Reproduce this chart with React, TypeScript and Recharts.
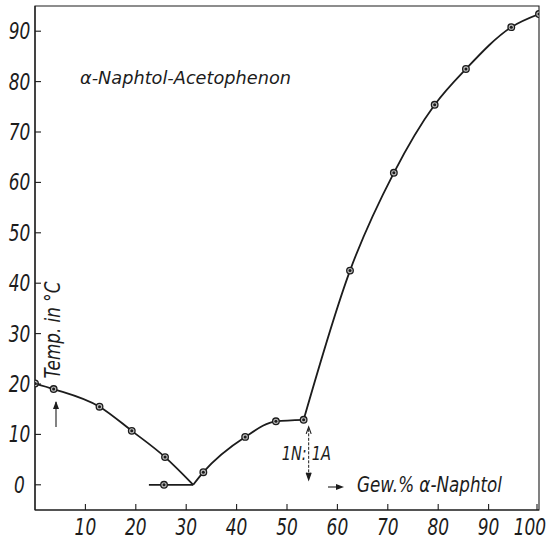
import React from 'react'
import {LineChart, Line, XAxis, YAxis, ReferenceArea, ReferenceLine} from 'recharts'

// Gew.% alpha-Naphtol (x) and temperature in °C (y)
const acetoX = [0, 3.7, 12.8, 19.2, 25.8, 31.4]
const acetoT = [20.1, 19.0, 15.5, 10.7, 5.5, 0]
const acetoDot = [true, true, true, true, true, false]

const compX = [31.4, 33.4, 41.7, 47.8, 53.3]
const compT = [0, 2.5, 9.5, 12.6, 12.9]
const compDot = [false, true, true, true, true]

const naphX = [53.3, 62.5, 71.2, 79.3, 85.5, 94.5, 100]
const naphT = [12.9, 42.5, 61.9, 75.4, 82.5, 90.8, 93.4]
const naphDot = [false, true, true, true, true, true, true]

const eutX = [22.6, 25.6, 31.4]
const eutT = [0, 0, 0]
const eutDot = [false, true, false]

const xTicks = [10, 20, 30, 40, 50, 60, 70, 80, 90, 100]
const yTicks = [0, 10, 20, 30, 40, 50, 60, 70, 80, 90]

const ratioX = 54.3
const ratioTop = 11.5
const ratioBottom = 1.0

const FONT = "'Liberation Sans Narrow', 'DejaVu Sans Condensed', 'Liberation Sans', sans-serif"
const INK = '#1c1c1c'

const rows = (xs: number[], ts: number[], dots: boolean[]) =>
  xs.map((x, i) => ({x, t: ts[i], dot: dots[i]}))

const Marker = (props: any) => {
  const {cx, cy, payload} = props
  if (!payload || !payload.dot) return <g />
  return (
    <g>
      <circle cx={cx} cy={cy} r={3.3} fill="#bbb" stroke={INK} strokeWidth={1.3} />
      <circle cx={cx} cy={cy} r={1.5} fill={INK} />
    </g>
  )
}

// narrow italic numbers like the printed figure
const Num = ({x, y, anchor, children}: any) => (
  <text transform={`translate(${x},${y}) scale(0.82,1)`} textAnchor={anchor} fontFamily={FONT}
    fontStyle="italic" fontSize={23} fill={INK}>{children}</text>
)

const YTick = (props: any) => {
  const {x, y, payload} = props
  return (
    <g>
      <line x1={x} y1={y} x2={x + 6} y2={y} stroke={INK} strokeWidth={1.1} />
      <Num x={x - 15.5} y={y + 8} anchor="middle">{payload.value}</Num>
    </g>
  )
}

const XTick = (props: any) => {
  const {x, y, payload, index} = props
  const last = index === xTicks.length - 1
  return (
    <g>
      <line x1={x} y1={y} x2={x} y2={y - 6} stroke={INK} strokeWidth={1.1} />
      <Num x={last ? x + 9 : x} y={y + 25} anchor={last ? 'end' : 'middle'}>{payload.value}</Num>
    </g>
  )
}

const RatioArrow = (props: any) => {
  const {x1, y1, y2} = props
  const top = Math.min(y1, y2)
  const bot = Math.max(y1, y2)
  return (
    <g>
      <line x1={x1} y1={top + 2} x2={x1} y2={bot - 2} stroke={INK} strokeWidth={1} strokeDasharray="3 1.5" />
      <path d={`M${x1 - 2.5},${top + 7} L${x1},${top} L${x1 + 2.5},${top + 7}`} fill="none" stroke={INK} strokeWidth={1.1} />
      <path d={`M${x1 - 2.5},${bot - 7} L${x1},${bot} L${x1 + 2.5},${bot - 7}`} fill={INK} stroke={INK} strokeWidth={1.1} />
      <text transform={`translate(${x1 - 2},${top + 33}) scale(0.85,1)`} textAnchor="end" fontFamily={FONT}
        fontStyle="italic" fontSize={19} fill={INK}>1N:</text>
      <text transform={`translate(${x1 + 3},${top + 33}) scale(0.85,1)`} textAnchor="start" fontFamily={FONT}
        fontStyle="italic" fontSize={19} fill={INK}>1A</text>
    </g>
  )
}

export default function App() {
  const lineProps = {
    dataKey: 't',
    stroke: INK,
    strokeWidth: 1.8,
    dot: <Marker />,
    activeDot: false,
    isAnimationActive: false,
  }
  return (
    <div style={{position: 'absolute', left: 0, top: 0, width: 549, height: 541, background: '#fff'}}>
      <LineChart width={549} height={541} margin={{top: 6, right: 10, bottom: 0, left: 0}}>
        <XAxis type="number" dataKey="x" domain={[0, 100]} ticks={xTicks} height={31}
          axisLine={{stroke: INK, strokeWidth: 1.2}} tickLine={false} tickSize={0} tickMargin={0}
          tick={<XTick />} allowDataOverflow />
        <YAxis type="number" domain={[-5, 95]} ticks={yTicks} width={35}
          axisLine={{stroke: INK, strokeWidth: 1.2}} tickLine={false} tickSize={0} tickMargin={0}
          tick={<YTick />} allowDataOverflow />
        <ReferenceArea x1={0} x2={100} y1={-5} y2={95} fill="none" stroke={INK} strokeWidth={1.1} />
        <ReferenceLine segment={[{x: ratioX, y: ratioTop}, {x: ratioX, y: ratioBottom}]}
          shape={<RatioArrow />} />
        <Line {...lineProps} type="linear" data={rows(eutX, eutT, eutDot)} />
        <Line {...lineProps} type="monotone" data={rows(acetoX, acetoT, acetoDot)} />
        <Line {...lineProps} type="monotone" data={rows(compX, compT, compDot)} />
        <Line {...lineProps} type="monotone" data={rows(naphX, naphT, naphDot)} />
      </LineChart>
      <svg width={549} height={541} style={{position: 'absolute', left: 0, top: 0, pointerEvents: 'none'}}>
        <text x={80} y={83.5} fontFamily={FONT} fontStyle="italic" fontSize={17} fill={INK}
          textLength={211} lengthAdjust="spacingAndGlyphs">α-Naphtol-Acetophenon</text>
        <text transform="translate(60,330) rotate(-90) scale(0.85,1)" textAnchor="middle" fontFamily={FONT}
          fontStyle="italic" fontSize={22} fill={INK}>Temp. in °C</text>
        <line x1={56} y1={427} x2={56} y2={402} stroke={INK} strokeWidth={1.1} />
        <path d="M53,409 L56,401 L59,409 Z" fill={INK} />
        <line x1={328} y1={487} x2={341} y2={487} stroke={INK} strokeWidth={1.1} />
        <path d="M336,484 L344,487 L336,490 Z" fill={INK} />
        <text x={357} y={492} fontFamily={FONT} fontStyle="italic" fontSize={21} fill={INK}
          textLength={145} lengthAdjust="spacingAndGlyphs">Gew.% α-Naphtol</text>
      </svg>
    </div>
  )
}
